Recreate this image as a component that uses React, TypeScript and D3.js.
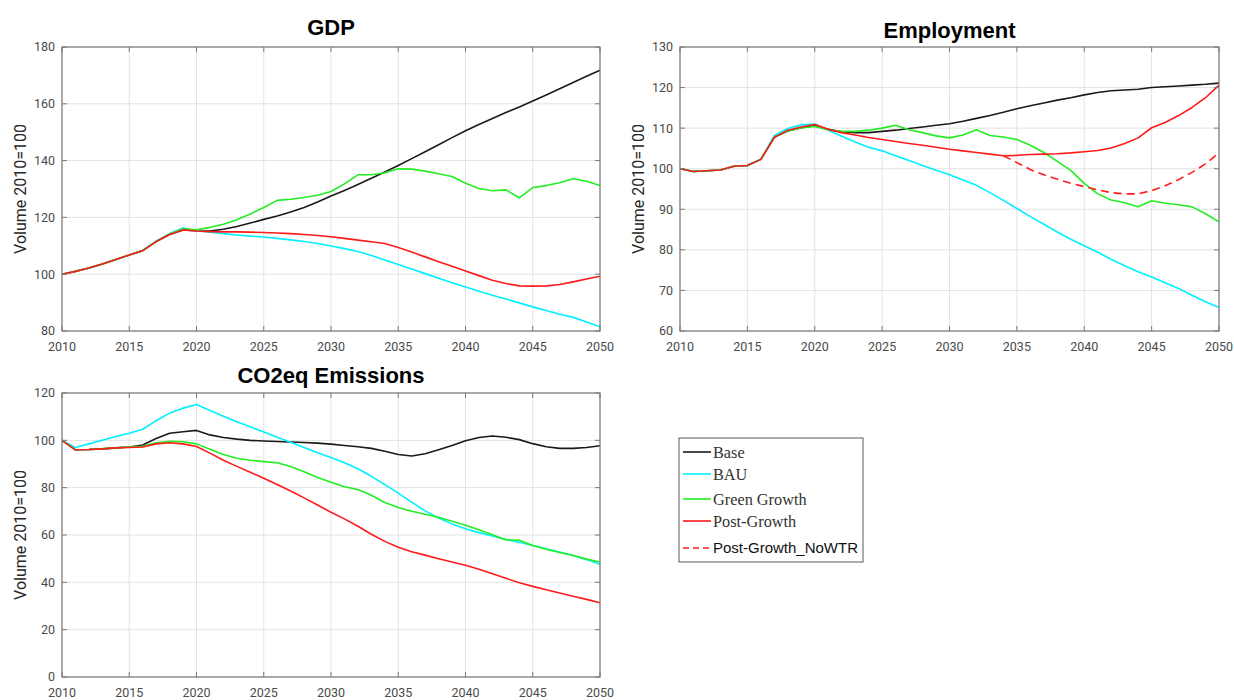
import React from "react";
import * as d3 from "d3";

// Years 2010..2050
const years: number[] = d3.range(2010, 2051);

// GDP, volume index 2010=100
const gdpBase = [100, 101, 102.2, 103.6, 105.2, 106.8, 108.3, 111.5, 114.0, 115.6, 115.3, 115.2, 115.8, 116.8, 118.0, 119.3, 120.5, 121.9, 123.5, 125.4, 127.5, 129.5, 131.6, 133.8, 136.0, 138.3, 140.7, 143.1, 145.6, 148.1, 150.5, 152.7, 154.8, 156.9, 158.9, 161.0, 163.1, 165.3, 167.5, 169.7, 171.8];
const gdpBAU = [100, 101, 102.2, 103.6, 105.2, 106.8, 108.3, 111.6, 114.3, 116.3, 115.3, 114.8, 114.3, 113.8, 113.4, 113.1, 112.6, 112.1, 111.5, 110.8, 109.9, 109.0, 108.0, 106.6, 105.0, 103.4, 101.8, 100.2, 98.6, 97.0, 95.5, 94.0, 92.6, 91.3, 89.9, 88.5, 87.2, 85.9, 84.8, 83.2, 81.5];
const gdpGreen = [100, 101, 102.2, 103.6, 105.2, 106.8, 108.3, 111.5, 114.2, 116.0, 115.6, 116.5, 117.6, 119.2, 121.2, 123.5, 126.0, 126.4, 127.0, 127.8, 129.1, 131.8, 135.0, 135.0, 135.7, 137.1, 137.0, 136.3, 135.4, 134.4, 132.0, 130.2, 129.4, 129.7, 126.9, 130.5, 131.2, 132.2, 133.6, 132.7, 131.2];
const gdpPost = [100, 101, 102.2, 103.6, 105.2, 106.8, 108.3, 111.5, 114.0, 115.6, 115.2, 115.0, 114.9, 114.9, 114.8, 114.7, 114.5, 114.3, 114.0, 113.6, 113.2, 112.6, 112.0, 111.4, 110.8, 109.4, 107.8, 106.1, 104.4, 102.8, 101.1, 99.5, 97.9, 96.7, 95.9, 95.8, 95.9, 96.4, 97.3, 98.3, 99.3];

// Employment, 2010=100
const empBase = [100, 99.3, 99.5, 99.7, 100.6, 100.8, 102.3, 107.8, 109.3, 110.1, 110.6, 109.7, 109.1, 108.9, 108.9, 109.2, 109.5, 109.9, 110.3, 110.7, 111.1, 111.7, 112.4, 113.1, 113.9, 114.8, 115.5, 116.2, 116.9, 117.5, 118.2, 118.8, 119.2, 119.4, 119.6, 120.0, 120.2, 120.4, 120.6, 120.8, 121.1];
const empBAU = [100, 99.3, 99.5, 99.7, 100.6, 100.8, 102.3, 108.2, 109.9, 110.8, 111.0, 109.5, 108.0, 106.6, 105.3, 104.4, 103.2, 102.0, 100.8, 99.6, 98.5, 97.2, 95.9, 94.1, 92.2, 90.2, 88.2, 86.3, 84.4, 82.6, 81.0, 79.4, 77.7, 76.1, 74.6, 73.3, 71.9, 70.5, 68.8, 67.2, 65.8];
const empGreen = [100, 99.3, 99.5, 99.7, 100.6, 100.8, 102.3, 107.8, 109.3, 110.1, 110.4, 109.6, 109.2, 109.2, 109.5, 110.0, 110.7, 109.6, 108.9, 108.1, 107.6, 108.3, 109.6, 108.2, 107.8, 107.2, 105.8, 104.0, 101.8, 99.6, 96.4, 93.8, 92.3, 91.6, 90.6, 92.1, 91.5, 91.1, 90.6, 88.9, 86.9];
const empPost = [100, 99.3, 99.5, 99.7, 100.6, 100.8, 102.3, 107.7, 109.5, 110.3, 110.9, 109.7, 108.9, 108.3, 107.7, 107.2, 106.7, 106.2, 105.8, 105.3, 104.8, 104.4, 104.0, 103.6, 103.2, 103.3, 103.5, 103.6, 103.7, 103.9, 104.2, 104.5, 105.1, 106.2, 107.6, 110.1, 111.4, 113.1, 115.1, 117.5, 120.6];
// Post-Growth without working-time reduction, diverges from 2034
const empPostNoWTRYears = d3.range(2034, 2051);
const empPostNoWTR = [103.2, 101.5, 99.8, 98.5, 97.4, 96.4, 95.6, 94.8, 94.1, 93.8, 93.8, 94.6, 95.8, 97.3, 99.1, 101.2, 103.9];

// CO2eq emissions, 2010=100
const co2Base = [100, 96.0, 96.1, 96.4, 96.8, 97.2, 98.0, 100.8, 103.0, 103.6, 104.2, 102.3, 101.2, 100.5, 100.0, 99.7, 99.5, 99.3, 99.1, 98.8, 98.4, 97.8, 97.3, 96.6, 95.4, 94.0, 93.4, 94.3, 96.0, 97.8, 99.8, 101.2, 101.8, 101.3, 100.3, 98.6, 97.3, 96.6, 96.6, 97.0, 97.7];
const co2BAU = [100, 97.0, 98.5, 100.0, 101.6, 103.0, 104.7, 108.3, 111.5, 113.6, 115.1, 112.6, 110.2, 107.9, 105.7, 103.5, 101.3, 99.2, 97.0, 94.8, 92.7, 90.5, 88.0, 84.8, 81.3, 77.7, 73.9, 70.2, 67.2, 64.7, 62.6, 61.0, 59.6, 58.1, 56.9, 55.6, 54.2, 52.8, 51.3, 49.6, 47.6];
const co2Green = [100, 96.0, 96.1, 96.4, 96.8, 97.2, 97.5, 99.0, 99.6, 99.4, 98.5, 96.2, 94.0, 92.4, 91.6, 91.0, 90.5, 88.9, 86.7, 84.3, 82.3, 80.4, 79.2, 76.8, 73.7, 71.6, 70.0, 68.8, 67.5, 65.8, 64.1, 62.2, 60.1, 58.0, 57.8, 55.6, 54.0, 52.6, 51.3, 49.8, 48.6];
const co2Post = [100, 96.0, 96.1, 96.4, 96.8, 97.0, 97.2, 98.5, 99.0, 98.5, 97.4, 94.6, 91.6, 89.0, 86.5, 84.0, 81.3, 78.6, 75.7, 72.7, 69.6, 66.8, 63.7, 60.3, 57.3, 54.8, 52.9, 51.5, 50.0, 48.6, 47.2, 45.5, 43.6, 41.7, 39.8, 38.3, 36.9, 35.5, 34.1, 32.8, 31.4];

const xTicks = [2010, 2015, 2020, 2025, 2030, 2035, 2040, 2045, 2050];
const gdpTicks = [80, 100, 120, 140, 160, 180];
const empTicks = [60, 70, 80, 90, 100, 110, 120, 130];
const co2Ticks = [0, 20, 40, 60, 80, 100, 120];

const scenarioNames = ["Base", "BAU", "Green Growth", "Post-Growth", "Post-Growth_NoWTR"];
const scenarioColors = ["#1a1a1a", "#00f0ff", "#22ee22", "#ff1a1a", "#ff1a1a"];

type Series = { x: number[]; y: number[]; color: string; dashed?: boolean };

interface PanelProps {
  title: string;
  left: number;
  top: number;
  width: number;
  height: number;
  yDomain: [number, number];
  yTicks: number[];
  series: Series[];
  titleDy: number;
}

const tickFont = "Roboto, 'Liberation Sans', Arial, sans-serif";

function Panel({ title, left, top, width, height, yDomain, yTicks, series, titleDy }: PanelProps) {
  const x = d3.scaleLinear().domain([2010, 2050]).range([left, left + width]);
  const y = d3.scaleLinear().domain(yDomain).range([top + height, top]);
  const tickLen = 5;
  const clipId = `clip-${title.replace(/\W/g, "")}`;
  return (
    <g>
      <defs>
        <clipPath id={clipId}>
          <rect x={left} y={top - 1} width={width + 1} height={height + 2} />
        </clipPath>
      </defs>
      <rect x={left} y={top} width={width} height={height} fill="#ffffff" />
      {/* grid */}
      {xTicks.map((t) => (
        <line key={"gx" + t} x1={x(t)} x2={x(t)} y1={top} y2={top + height} stroke="#e3e3e3" strokeWidth={1} />
      ))}
      {yTicks.map((t) => (
        <line key={"gy" + t} x1={left} x2={left + width} y1={y(t)} y2={y(t)} stroke="#e3e3e3" strokeWidth={1} />
      ))}
      {/* data lines */}
      <g clipPath={`url(#${clipId})`}>
        {series.map((s, i) => {
          const gen = d3
            .line<number>()
            .x((_, k) => x(s.x[k]))
            .y((v) => y(v));
          return (
            <path
              key={i}
              d={gen(s.y) || ""}
              fill="none"
              stroke={s.color}
              strokeWidth={1.6}
              strokeDasharray={s.dashed ? "8,5" : undefined}
              strokeLinejoin="round"
            />
          );
        })}
      </g>
      {/* ticks inside */}
      {xTicks.map((t) => (
        <g key={"tx" + t}>
          <line x1={x(t)} x2={x(t)} y1={top + height} y2={top + height - tickLen} stroke="#7a7a7a" />
          <line x1={x(t)} x2={x(t)} y1={top} y2={top + tickLen} stroke="#7a7a7a" />
        </g>
      ))}
      {yTicks.map((t) => (
        <g key={"ty" + t}>
          <line x1={left} x2={left + tickLen} y1={y(t)} y2={y(t)} stroke="#7a7a7a" />
          <line x1={left + width} x2={left + width - tickLen} y1={y(t)} y2={y(t)} stroke="#7a7a7a" />
        </g>
      ))}
      {/* box */}
      <rect x={left} y={top} width={width} height={height} fill="none" stroke="#7a7a7a" strokeWidth={1.2} />
      {/* tick labels */}
      {xTicks.map((t) => (
        <text
          key={"lx" + t}
          x={x(t)}
          y={top + height + 20}
          textAnchor="middle"
          fontFamily={tickFont}
          fontSize={12.5}
          fill="#4a4a4a"
        >
          {t}
        </text>
      ))}
      {yTicks.map((t) => (
        <text
          key={"ly" + t}
          x={left - 7}
          y={y(t)}
          dy="0.35em"
          textAnchor="end"
          fontFamily={tickFont}
          fontSize={12.5}
          fill="#4a4a4a"
        >
          {t}
        </text>
      ))}
      {/* axis label */}
      <text
        transform={`translate(${left - 42},${top + height / 2}) rotate(-90)`}
        textAnchor="middle"
        dy="0.35em"
        fontFamily={tickFont}
        fontSize={16}
        fill="#262626"
      >
        Volume 2010=100
      </text>
      {/* title */}
      <text
        x={left + width / 2}
        y={top - titleDy}
        textAnchor="middle"
        fontFamily="'Liberation Sans', Arial, sans-serif"
        fontWeight="bold"
        fontSize={22}
        fill="#000"
      >
        {title}
      </text>
    </g>
  );
}

export default function App() {
  const mk = (ys: number[][], extra?: Series): Series[] => {
    const s: Series[] = ys.map((v, i) => ({ x: years, y: v, color: scenarioColors[i] }));
    if (extra) s.push(extra);
    return s;
  };

  const legendX = 679;
  const legendY = 438;
  const legendRows = [452, 474, 499, 521, 548];

  return (
    <svg width={1234} height={700} style={{ position: "absolute", left: 0, top: 0, background: "#fff" }}>
      <rect width={1234} height={700} fill="#fff" />
      <Panel
        title="GDP"
        left={62}
        top={47}
        width={538}
        height={284}
        yDomain={[80, 180]}
        yTicks={gdpTicks}
        series={mk([gdpBase, gdpBAU, gdpGreen, gdpPost])}
        titleDy={12}
      />
      <Panel
        title="Employment"
        left={680}
        top={47}
        width={539}
        height={284}
        yDomain={[60, 130]}
        yTicks={empTicks}
        series={mk([empBase, empBAU, empGreen, empPost], {
          x: empPostNoWTRYears,
          y: empPostNoWTR,
          color: scenarioColors[4],
          dashed: true,
        })}
        titleDy={9}
      />
      <Panel
        title="CO2eq Emissions"
        left={62}
        top={393}
        width={538}
        height={284}
        yDomain={[0, 120]}
        yTicks={co2Ticks}
        series={mk([co2Base, co2BAU, co2Green, co2Post])}
        titleDy={10}
      />
      {/* legend */}
      <rect x={legendX} y={legendY} width={184} height={124} fill="#fff" stroke="#5a5a5a" strokeWidth={1} />
      {scenarioNames.map((name, i) => (
        <g key={name}>
          <line
            x1={legendX + 4}
            x2={legendX + 32}
            y1={legendRows[i]}
            y2={legendRows[i]}
            stroke={scenarioColors[i]}
            strokeWidth={1.6}
            strokeDasharray={i === 4 ? "6,4" : undefined}
          />
          <text
            x={legendX + 34}
            y={legendRows[i]}
            dy="0.35em"
            fontFamily={i === 4 ? "'Liberation Sans', Arial, sans-serif" : "'Liberation Serif', 'DejaVu Serif', serif"}
            fontSize={i === 4 ? 15 : 16.3}
            fill={i === 4 ? "#111" : "#333"}
          >
            {name}
          </text>
        </g>
      ))}
    </svg>
  );
}
